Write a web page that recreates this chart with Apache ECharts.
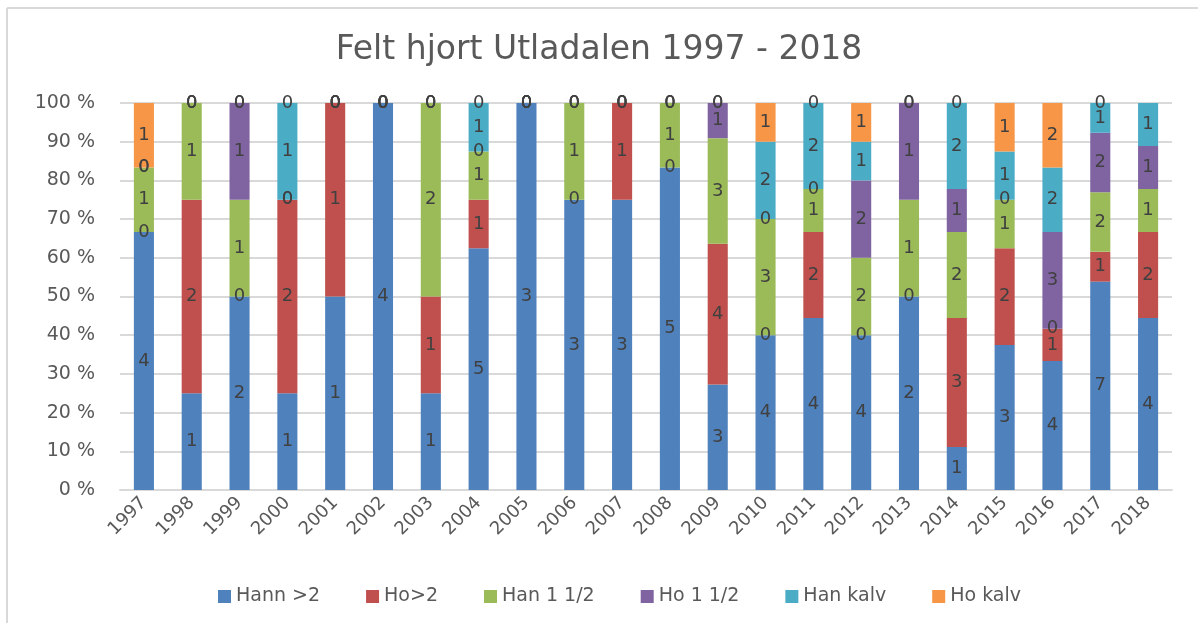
<!DOCTYPE html>
<html>
<head>
<meta charset="utf-8">
<script src="https://cdn.jsdelivr.net/npm/echarts@6/dist/echarts.min.js"></script>
<style>
  html, body { margin: 0; padding: 0; background: #ffffff; }
  #chart { width: 1198px; height: 623px; }
</style>
</head>
<body>
<div id="chart"></div>
<script>
// Felt hjort (harvested red deer) in Utladalen, counts per category per year
const years = ['1997','1998','1999','2000','2001','2002','2003','2004','2005','2006','2007',
               '2008','2009','2010','2011','2012','2013','2014','2015','2016','2017','2018'];

const hann2    = [4,1,2,1,1,4,1,5,3,3,3,5,3,4,4,4,2,1,3,4,7,4];
const ho2      = [0,2,0,2,1,0,1,1,0,0,1,0,4,0,2,0,0,3,2,1,1,2];
const han15    = [1,1,1,0,0,0,2,1,0,1,0,1,3,3,1,2,1,2,1,0,2,1];
const ho15     = [0,0,1,0,0,0,0,0,0,0,0,0,1,0,0,2,1,1,0,3,2,1];
const hanKalv  = [0,0,0,1,0,0,0,1,0,0,0,0,0,2,2,1,0,2,1,2,1,1];
const hoKalv   = [1,0,0,0,0,0,0,0,0,0,0,0,0,1,0,1,0,0,1,2,0,null];

const yTicks = [0,10,20,30,40,50,60,70,80,90,100];

const seriesDefs = [
  { name: 'Hann >2',   data: hann2,   color: '#4f81bd' },
  { name: 'Ho>2',      data: ho2,     color: '#c0504d' },
  { name: 'Han 1 1/2', data: han15,   color: '#9bbb59' },
  { name: 'Ho 1 1/2',  data: ho15,    color: '#8064a2' },
  { name: 'Han kalv',  data: hanKalv, color: '#4bacc6' },
  { name: 'Ho kalv',   data: hoKalv,  color: '#f79646' }
];

// yearly totals, used to stack each year to 100 %
const totals = years.map((_, i) =>
  seriesDefs.reduce((s, d) => s + (d.data[i] == null ? 0 : d.data[i]), 0));

const FONT = 'DejaVu Sans';
const TEXT = '#595959';

const chart = echarts.init(document.getElementById('chart'), null, { renderer: 'canvas' });

chart.setOption({
  backgroundColor: '#ffffff',
  animation: false,
  textStyle: { fontFamily: FONT },
  title: {
    text: 'Felt hjort Utladalen 1997 - 2018',
    left: 'center',
    top: 29,
    textStyle: { fontFamily: FONT, fontSize: 33, fontWeight: 'normal', color: TEXT }
  },
  graphic: [
    { type: 'line', shape: { x1: 7, y1: 8, x2: 1198, y2: 8 }, style: { stroke: '#d9d9d9', lineWidth: 2 } },
    { type: 'line', shape: { x1: 7, y1: 8, x2: 7, y2: 623 }, style: { stroke: '#d9d9d9', lineWidth: 2 } }
  ],
  legend: {
    bottom: 12,
    left: 213,
    itemWidth: 13,
    itemHeight: 13,
    itemGap: 46,
    icon: 'rect',
    textStyle: { fontFamily: FONT, fontSize: 19, color: TEXT },
    data: seriesDefs.map(d => d.name)
  },
  grid: { left: 120, right: 26, top: 103, bottom: 133, containLabel: false },
  xAxis: {
    type: 'category',
    data: years,
    axisLine: { lineStyle: { color: '#d9d9d9', width: 2 } },
    axisTick: { show: false },
    axisLabel: { rotate: 45, margin: 10, fontFamily: FONT, fontSize: 18, color: TEXT, interval: 0 }
  },
  yAxis: {
    type: 'value',
    min: 0,
    max: 100,
    interval: 10,
    axisLine: { show: false },
    axisTick: { show: false },
    splitLine: { lineStyle: { color: '#d9d9d9', width: 2 } },
    axisLabel: {
      margin: 25,
      fontFamily: FONT,
      fontSize: 19,
      color: TEXT,
      formatter: v => (yTicks.indexOf(v) >= 0 ? v + ' %' : '')
    }
  },
  series: seriesDefs.map(d => ({
    name: d.name,
    type: 'bar',
    stack: 'total',
    barWidth: '42%',
    itemStyle: { color: d.color },
    label: {
      show: true,
      position: 'inside',
      fontFamily: FONT,
      fontSize: 18,
      color: '#404040',
      formatter: p => String(d.data[p.dataIndex])
    },
    data: d.data.map((v, i) => (v == null ? null : v / totals[i] * 100))
  }))
});
</script>
</body>
</html>
